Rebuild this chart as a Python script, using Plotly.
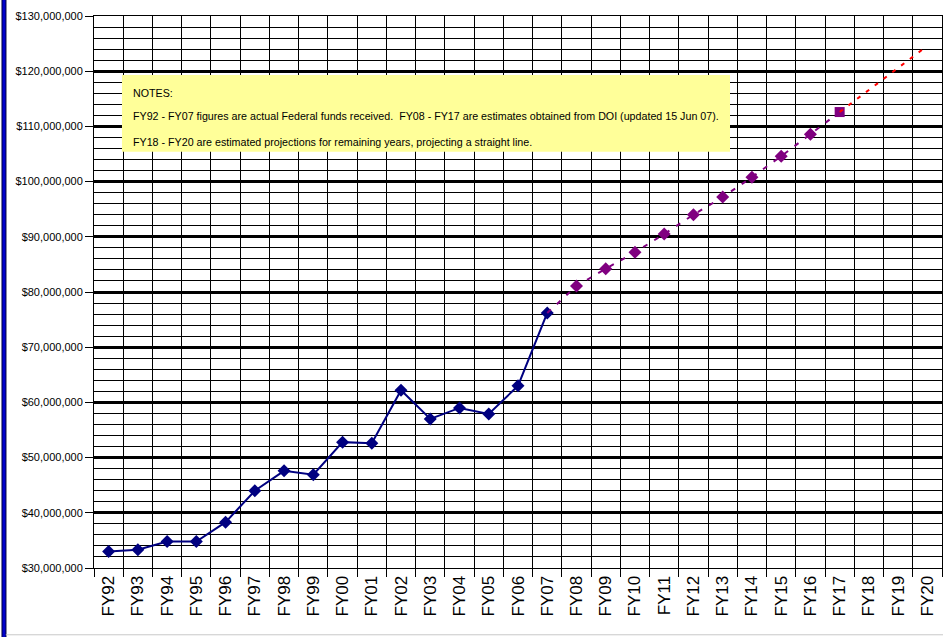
import plotly.graph_objects as go

categories = ["FY92", "FY93", "FY94", "FY95", "FY96", "FY97", "FY98", "FY99", "FY00", "FY01",
              "FY02", "FY03", "FY04", "FY05", "FY06", "FY07", "FY08", "FY09", "FY10", "FY11",
              "FY12", "FY13", "FY14", "FY15", "FY16", "FY17", "FY18", "FY19", "FY20"]

actual_cats = categories[0:16]
actual_vals = [33.0e6, 33.3e6, 34.8e6, 34.8e6, 38.3e6, 44.0e6, 47.6e6, 46.9e6, 52.8e6, 52.6e6,
               62.2e6, 57.0e6, 59.0e6, 57.9e6, 63.0e6, 76.2e6]

estimate_cats = categories[16:26]
estimate_vals = [81.1e6, 84.2e6, 87.2e6, 90.5e6, 94.0e6, 97.2e6, 100.8e6, 104.6e6, 108.6e6, 112.6e6]

projection_cats = categories[26:29]
projection_vals = [116.6e6, 120.6e6, 124.6e6]

notes = [
    "NOTES:",
    "FY92 - FY07 figures are actual Federal funds received.  FY08 - FY17 are estimates obtained from DOI (updated 15 Jun 07).",
    "FY18 - FY20 are estimated projections for remaining years, projecting a straight line.",
]

fig = go.Figure()

fig.add_trace(go.Scatter(
    x=actual_cats, y=actual_vals, mode="lines+markers",
    line=dict(color="#000080", width=2),
    marker=dict(symbol="diamond", size=10, color="#000080"),
    showlegend=False))

fig.add_trace(go.Scatter(
    x=[actual_cats[-1]] + estimate_cats, y=[actual_vals[-1]] + estimate_vals, mode="lines",
    line=dict(color="#800080", width=2, dash="5px,8px"),
    showlegend=False))

fig.add_trace(go.Scatter(
    x=estimate_cats, y=estimate_vals, mode="markers",
    marker=dict(symbol=["diamond"] * (len(estimate_cats) - 1) + ["square"],
                size=10, color="#800080", opacity=1),
    showlegend=False))

fig.add_trace(go.Scatter(
    x=[estimate_cats[-1]] + projection_cats, y=[estimate_vals[-1]] + projection_vals, mode="lines",
    line=dict(color="#FF0000", width=2, dash="4px,7px"),
    showlegend=False))

fig.update_layout(
    width=943, height=637,
    margin=dict(l=94, r=1, t=16, b=69),
    paper_bgcolor="white", plot_bgcolor="white",
    font=dict(family="Liberation Sans, Arial, sans-serif", color="black"),
    xaxis=dict(
        type="category", categoryorder="array", categoryarray=categories,
        range=[-0.5, len(categories) - 0.5],
        tickson="boundaries", ticks="outside", ticklen=8, tickcolor="black",
        showgrid=True, gridcolor="black", gridwidth=1,
        tickangle=-90, tickfont=dict(size=17, color="black"),
        showline=True, linecolor="black", linewidth=1, mirror=True,
    ),
    yaxis=dict(
        range=[30e6, 130e6], dtick=10e6, tick0=0,
        tickformat="$,.0f", tickfont=dict(size=11, color="black"),
        ticks="outside", ticklen=8, tickcolor="black",
        showgrid=True, gridcolor="black", gridwidth=3,
        showline=True, linecolor="black", linewidth=1, mirror=True,
        zeroline=False,
        minor=dict(dtick=2e6, showgrid=True, gridcolor="black", gridwidth=1, ticks=""),
    ),
)

# notes box
fig.add_shape(type="rect", xref="paper", yref="paper",
              x0=0.033, x1=0.750, y0=0.754, y1=0.893,
              fillcolor="#FFFF99", line=dict(width=0), layer="above")
for txt, yy in zip(notes, [0.860, 0.819, 0.772]):
    fig.add_annotation(xref="paper", yref="paper", x=0.0436, y=yy, text=txt,
                       showarrow=False, xanchor="left", yanchor="middle",
                       font=dict(size=10.7, color="black"))

# left blue frame band and bottom frame line
fig.add_shape(type="rect", xref="paper", yref="paper",
              x0=-0.1085, x1=-0.1038, y0=-0.13, y1=1.04,
              fillcolor="#0000CC", line=dict(color="#000040", width=1))
fig.add_shape(type="line", xref="paper", yref="paper",
              x0=-0.104, x1=1.01, y0=-0.121, y1=-0.121,
              line=dict(color="#C8C8C8", width=1))

fig.write_html("out.html", config={"displayModeBar": False},
               post_script="document.body.style.margin='0px';document.body.style.overflow='hidden';")
